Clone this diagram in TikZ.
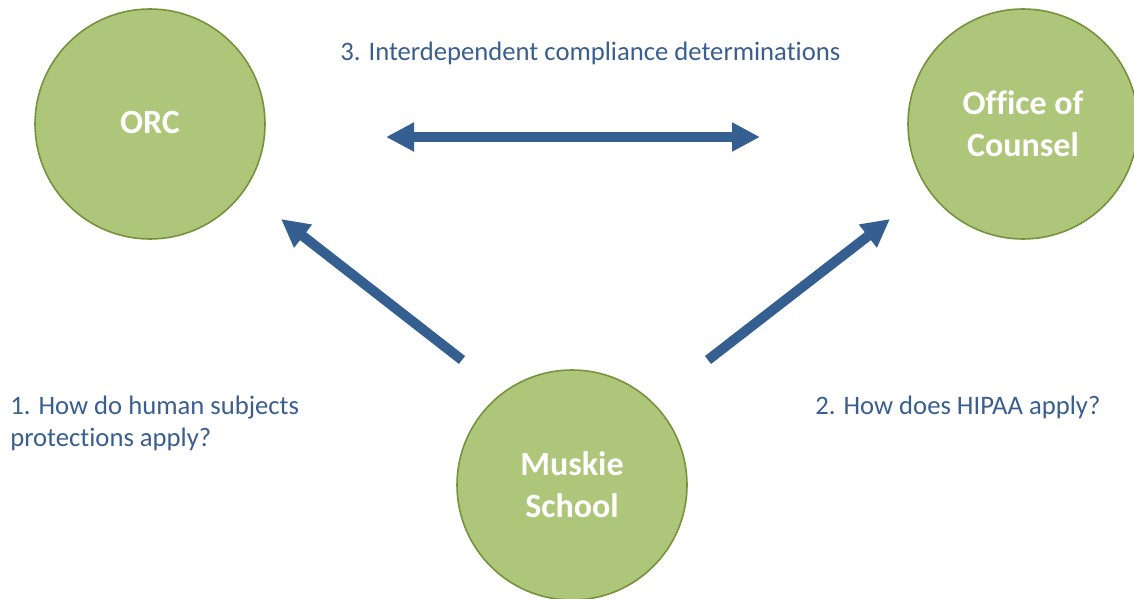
\documentclass[tikz,border=0pt]{standalone}
\usepackage{fontspec}
\setmainfont{Carlito}[Ligatures={NoCommon}]
\usetikzlibrary{arrows.meta}
\definecolor{cfill}{HTML}{AEC679}
\definecolor{cdraw}{HTML}{76923C}
\definecolor{ablue}{HTML}{355F91}
\definecolor{tblue}{HTML}{3A5E8E}
\begin{document}
\begin{tikzpicture}[x=0.75pt,y=-0.75pt,
  circ/.style={circle,fill=cfill,draw=cdraw,line width=1.2pt,minimum size=172.5pt,inner sep=0pt,
    text=white,font=\fontsize{25.5}{31.5}\selectfont\bfseries,align=center},
  lbl/.style={text=tblue,font=\fontsize{20}{24}\selectfont,inner sep=0pt},
  bigarrow/.style={draw=ablue,line width=7.5pt,-{Triangle[length=21pt,width=20.5pt]}},
  dblarrow/.style={draw=ablue,line width=7.5pt,{Triangle[length=21pt,width=20.5pt]}-{Triangle[length=21pt,width=20.5pt]}}]
\useasboundingbox (0,0) rectangle (1134,599);
\clip (0,0) rectangle (1134,599);
\node[circ] (orc) at (150,124) {\raisebox{3pt}{ORC}};
\node[circ] (counsel) at (1023,124) {Office of\\Counsel};
\node[circ] (muskie) at (572,485) {Muskie\\School};
\coordinate (hl) at (386,137);
\coordinate (hr) at (760,137);
\coordinate (ltail) at (462,360);
\coordinate (ltip) at (281,219);
\coordinate (rtail) at (708,360);
\coordinate (rtip) at (890,219);
\draw[dblarrow] (hl) -- (hr);
\draw[bigarrow] (ltail) -- (ltip);
\draw[bigarrow] (rtail) -- (rtip);
\node[lbl,anchor=west] (t3) at (340,53) {3. Interdependent compliance determinations};
\node[lbl,anchor=west,align=left] (t1) at (10,423) {1. How do human subjects\\protections apply?};
\node[lbl,anchor=west] (t2) at (815,407) {2. How does HIPAA apply?};
\end{tikzpicture}
\end{document}
